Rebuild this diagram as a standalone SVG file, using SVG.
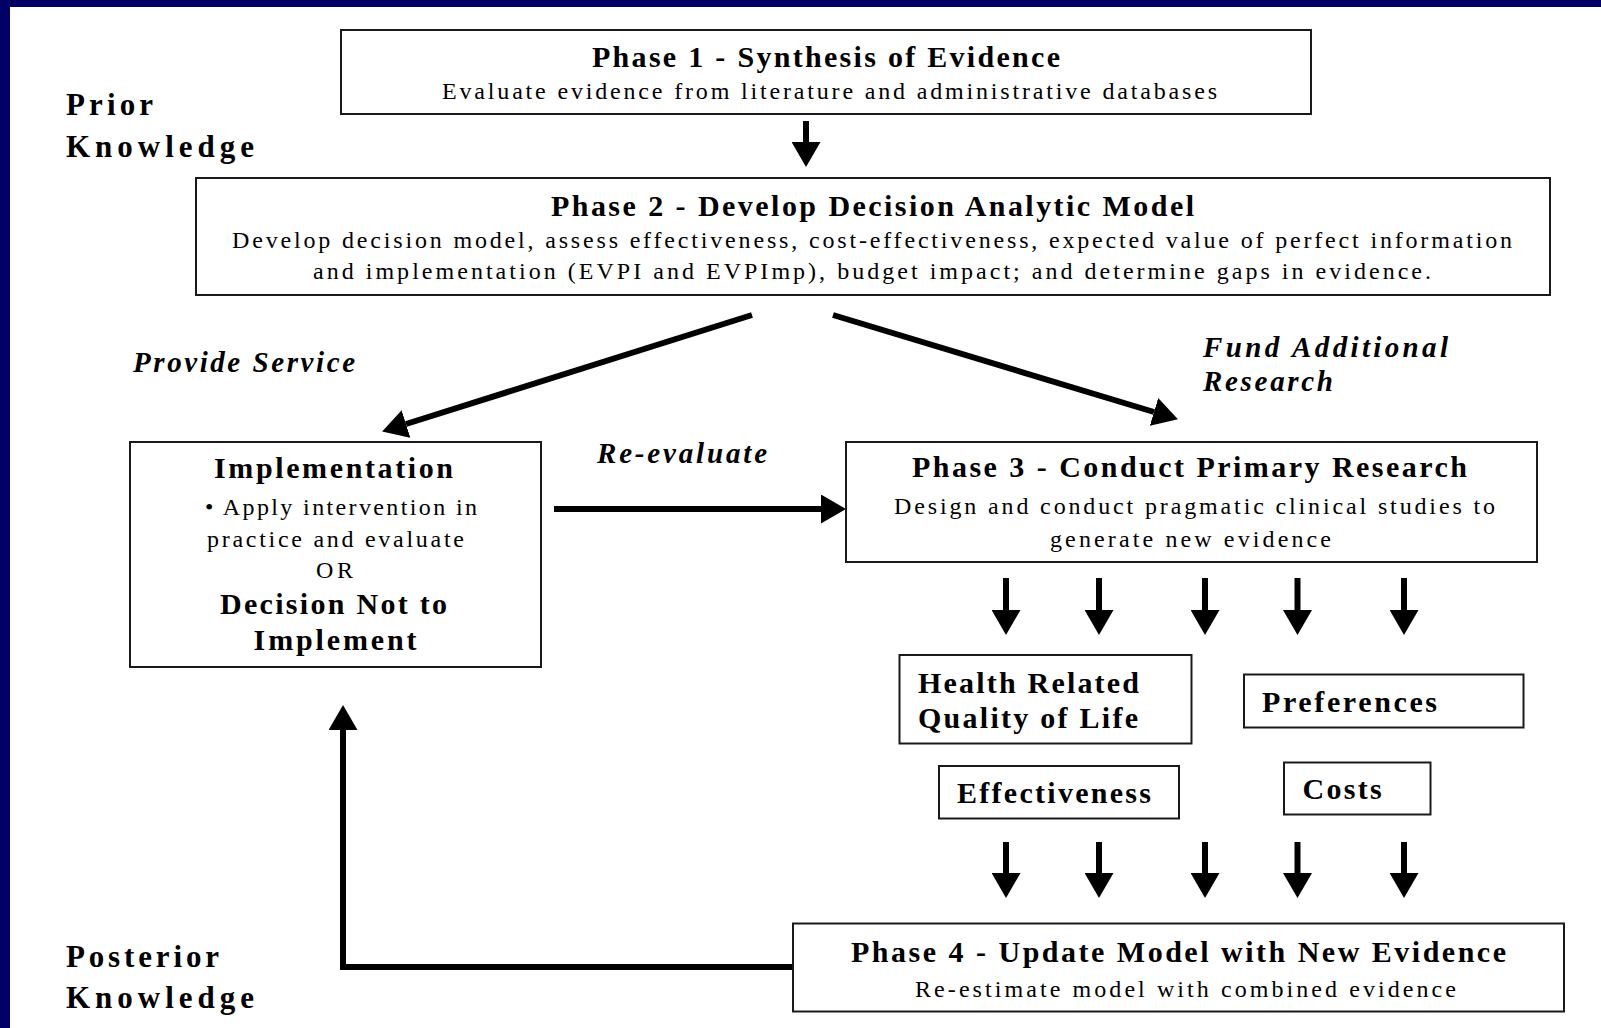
<svg xmlns="http://www.w3.org/2000/svg" width="1601" height="1028" viewBox="0 0 1601 1028">
<defs>
<style>
.box{fill:#fff;stroke:#1a1a1a;stroke-width:2}
.t{font-family:"Liberation Serif","Times New Roman",serif;fill:#000}
.h{font-weight:bold;font-size:30px}
.b{font-size:24px}
.lab{font-weight:bold;font-size:31px}
.it{font-weight:bold;font-style:italic;font-size:29px}
.con{fill:none;stroke:#000;stroke-width:6}
</style>
<marker id="ah" markerUnits="userSpaceOnUse" viewBox="0 0 25 29" markerWidth="25" markerHeight="29" refX="0" refY="14.5" orient="auto">
<path d="M0,0 L25,14.5 L0,29 z" fill="#000"/>
</marker>
</defs>
<rect x="0" y="0" width="1601" height="1028" fill="#fff"/>
<rect x="0" y="0" width="1601" height="7" fill="#000066"/>
<rect x="0" y="0" width="10" height="1028" fill="#000066"/>

<g id="side-labels">
<text class="t lab" x="66" y="115" textLength="87" lengthAdjust="spacing">Prior</text>
<text class="t lab" x="66" y="156.5" textLength="188" lengthAdjust="spacing">Knowledge</text>
<text class="t lab" x="66" y="967" textLength="153" lengthAdjust="spacing">Posterior</text>
<text class="t lab" x="66" y="1008" textLength="188" lengthAdjust="spacing">Knowledge</text>
</g>

<g id="connectors">
<line class="con" x1="806" y1="121" x2="806" y2="142" marker-end="url(#ah)"/>
<line class="con" x1="752" y1="315" x2="406" y2="424" marker-end="url(#ah)"/>
<line class="con" x1="833" y1="315" x2="1154" y2="412" marker-end="url(#ah)"/>
<line class="con" x1="554" y1="509" x2="821" y2="509" marker-end="url(#ah)"/>
<line class="con" x1="1006" y1="578" x2="1006" y2="610" marker-end="url(#ah)"/>
<line class="con" x1="1099" y1="578" x2="1099" y2="610" marker-end="url(#ah)"/>
<line class="con" x1="1205" y1="578" x2="1205" y2="610" marker-end="url(#ah)"/>
<line class="con" x1="1297.5" y1="578" x2="1297.5" y2="610" marker-end="url(#ah)"/>
<line class="con" x1="1404" y1="578" x2="1404" y2="610" marker-end="url(#ah)"/>
<line class="con" x1="1006" y1="842" x2="1006" y2="873" marker-end="url(#ah)"/>
<line class="con" x1="1099" y1="842" x2="1099" y2="873" marker-end="url(#ah)"/>
<line class="con" x1="1205" y1="842" x2="1205" y2="873" marker-end="url(#ah)"/>
<line class="con" x1="1297.5" y1="842" x2="1297.5" y2="873" marker-end="url(#ah)"/>
<line class="con" x1="1404" y1="842" x2="1404" y2="873" marker-end="url(#ah)"/>
<path class="con" d="M794,967 H343 V730" marker-end="url(#ah)"/>
<text class="t it" x="133" y="371.7" textLength="222" lengthAdjust="spacing">Provide Service</text>
<text class="t it" x="1203" y="356.7" textLength="245" lengthAdjust="spacing">Fund Additional</text>
<text class="t it" x="1203" y="391" textLength="130" lengthAdjust="spacing">Research</text>
<text class="t it" x="597" y="463.3" textLength="170" lengthAdjust="spacing">Re-evaluate</text>
</g>

<g id="phase1">
<rect class="box" x="341" y="30" width="970" height="84"/>
<text class="t h" x="592" y="67" textLength="468" lengthAdjust="spacing">Phase 1 - Synthesis of Evidence</text>
<text class="t b" x="442" y="99" textLength="775" lengthAdjust="spacing">Evaluate evidence from literature and administrative databases</text>
</g>

<g id="phase2">
<rect class="box" x="196" y="178" width="1354" height="117"/>
<text class="t h" x="551" y="215.5" textLength="643" lengthAdjust="spacing">Phase 2 - Develop Decision Analytic Model</text>
<text class="t b" x="232" y="248" textLength="1280" lengthAdjust="spacing">Develop decision model, assess effectiveness, cost-effectiveness, expected value of perfect information</text>
<text class="t b" x="313" y="279" textLength="1118" lengthAdjust="spacing">and implementation (EVPI and EVPImp), budget impact; and determine gaps in evidence.</text>
</g>

<g id="implementation">
<rect class="box" x="130" y="442" width="411" height="225"/>
<text class="t h" x="214" y="477.7" textLength="239" lengthAdjust="spacing">Implementation</text>
<text class="t b" x="205" y="515" textLength="272" lengthAdjust="spacing">• Apply intervention in</text>
<text class="t b" x="207" y="546.7" textLength="257" lengthAdjust="spacing">practice and evaluate</text>
<text class="t b" x="316" y="578" textLength="37" lengthAdjust="spacing">OR</text>
<text class="t h" x="220" y="614" textLength="227" lengthAdjust="spacing">Decision Not to</text>
<text class="t h" x="253.6" y="650" textLength="163" lengthAdjust="spacing">Implement</text>
</g>

<g id="phase3">
<rect class="box" x="846" y="442" width="691" height="120"/>
<text class="t h" x="912" y="476.7" textLength="555" lengthAdjust="spacing">Phase 3 - Conduct Primary Research</text>
<text class="t b" x="894" y="513.5" textLength="601" lengthAdjust="spacing">Design and conduct pragmatic clinical studies to</text>
<text class="t b" x="1050" y="546.7" textLength="281" lengthAdjust="spacing">generate new evidence</text>
</g>

<g id="hrqol">
<rect class="box" x="899.5" y="655" width="292" height="88.5"/>
<text class="t h" x="918" y="692.7" textLength="221" lengthAdjust="spacing">Health Related</text>
<text class="t h" x="918" y="728" textLength="220" lengthAdjust="spacing">Quality of Life</text>
</g>

<g id="preferences">
<rect class="box" x="1244" y="674.5" width="279.5" height="53"/>
<text class="t h" x="1262" y="711.7" textLength="175" lengthAdjust="spacing">Preferences</text>
</g>

<g id="effectiveness">
<rect class="box" x="939" y="766" width="240" height="52.5"/>
<text class="t h" x="957" y="802.7" textLength="194" lengthAdjust="spacing">Effectiveness</text>
</g>

<g id="costs">
<rect class="box" x="1284" y="762.5" width="146.5" height="52"/>
<text class="t h" x="1302.6" y="799.3" textLength="79" lengthAdjust="spacing">Costs</text>
</g>

<g id="phase4">
<rect class="box" x="793" y="923.5" width="771" height="88"/>
<text class="t h" x="851" y="961.7" textLength="655" lengthAdjust="spacing">Phase 4 - Update Model with New Evidence</text>
<text class="t b" x="915" y="996.7" textLength="541" lengthAdjust="spacing">Re-estimate model with combined evidence</text>
</g>
</svg>
